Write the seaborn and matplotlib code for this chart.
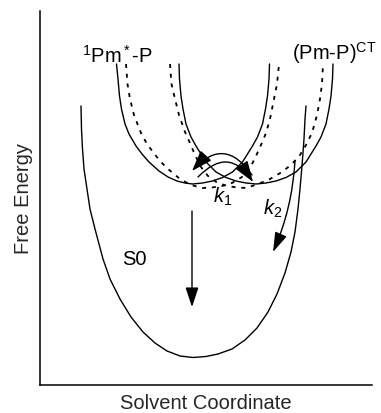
"""
Free energy surfaces along the solvent coordinate (S0, 1Pm*-P and CT state).
"""

import matplotlib
matplotlib.use("Agg")
import matplotlib.pyplot as plt
import numpy as np
import seaborn as sns

# ── Curve data (solvent coordinate, free energy) ─────────────────────────────
# locally-excited state 1Pm*-P, solid
LE_X = [76.5, 78, 79.5, 81.5, 85, 89, 96, 102, 109, 119, 128, 137, 145, 152.5,
        162.5, 172.5, 182.5, 192.5, 202.5, 207.5, 212.5, 217.5, 222.5, 225.5, 227.5, 229, 229.5]
LE_Y = [321, 306, 289, 276, 261, 251, 239, 231, 223, 214, 208, 204, 202, 201,
        202, 204, 207.5, 213, 223, 231, 239, 248, 261, 276, 289, 306, 321]

# charge-transfer state (Pm-P)CT, solid
CT_X = [139, 139.5, 141, 143, 146, 151, 156, 161, 166, 176, 186, 196, 206, 216,
        226, 236, 246, 256, 266, 271, 276, 281, 286, 289, 291, 292.5, 293]
CT_Y = [321, 306, 289, 276, 261, 248, 239, 231, 223, 213, 207.5, 204, 202, 201,
        202, 204, 207.5, 213, 223, 231, 239, 248, 261, 276, 289, 306, 321]

# shifted surfaces, dashed
LE_DASH_X = [86, 87.5, 90, 94, 101, 107, 113, 120, 128, 140, 151, 162.5,
             172, 182, 192, 202, 210, 216, 221, 226, 230, 234, 237, 239]
LE_DASH_Y = [321, 301, 286, 270, 252, 241, 233, 224, 216, 206, 200, 197,
             197.5, 199, 202, 208, 217, 229, 240, 252, 266, 286, 301, 321]

CT_DASH_X = [130, 131.5, 135, 139, 145, 150, 155, 161, 168, 177, 187, 197, 206.5,
             218, 230, 242, 252, 260, 266, 272, 277, 280, 282, 283]
CT_DASH_Y = [321, 301, 286, 270, 253, 242, 230, 218, 209, 202.5, 199, 197.5, 197,
             201, 206, 213, 221, 230, 240, 252, 270, 286, 301, 321]

# ground state S0
S0_X = [41, 41.5, 42.5, 44, 47, 50, 55, 63, 70, 80, 91, 103, 115, 127, 140, 153,
        166, 178, 192, 205, 217, 228, 237, 245, 251, 255, 258, 260, 262, 264, 265, 266]
S0_Y = [279, 256, 236, 216, 196, 176, 156, 126, 106, 86, 68, 53, 42, 34, 29, 27.5,
        28.5, 31, 36, 45, 57, 73, 91, 112, 133, 153, 176, 196, 219, 246, 266, 279]

# arrows: (start, tip)
RELAX_ARROW = [(152, 174), (152, 78)]
K2_ARROW = [(255, 224), (233, 133)]
K1_BACK_ARROW = [(212, 210), (152, 214)]
K1_FWD_ARROW = [(158, 208), (213, 203)]

# labels
LABELS = {
    "$^1$Pm$^*$-P": (42, 323),
    "(Pm-P)$^{\\mathrm{CT}}$": (252, 326),
    "S0": (82, 121),
    "$k_1$": (173, 183),
    "$k_2$": (223, 171),
}

# ── Styling ─────────────────────────────────────────────────────────────────
sns.set_theme(style="white")
plt.rcParams.update({
    "font.family": ["Liberation Sans", "DejaVu Sans"],
    "mathtext.fontset": "custom",
    "mathtext.rm": "Liberation Sans",
    "mathtext.it": "Liberation Sans:italic",
    "mathtext.bf": "Liberation Sans:bold",
    "axes.edgecolor": "black",
})

fig = plt.figure(figsize=(3.81, 4.14), dpi=100)
ax = fig.add_axes([40 / 381, 28 / 414, 332 / 381, 374 / 414])

line_kw = dict(color="black", lw=1.0, sort=False, estimator=None, ax=ax, legend=False)
sns.lineplot(x=LE_X, y=LE_Y, **line_kw)
sns.lineplot(x=CT_X, y=CT_Y, **line_kw)
sns.lineplot(x=S0_X, y=S0_Y, **line_kw)

dash_kw = dict(line_kw, lw=1.3, linestyle=(0, (2.2, 3.2)))
sns.lineplot(x=LE_DASH_X, y=LE_DASH_Y, **dash_kw)
sns.lineplot(x=CT_DASH_X, y=CT_DASH_Y, **dash_kw)


def arrow(points, rad=0.0, hl=1.1, hw=0.35):
    (x0, y0), (x1, y1) = points
    ax.annotate(
        "", xy=(x1, y1), xytext=(x0, y0),
        arrowprops=dict(
            arrowstyle=f"-|>,head_length={hl},head_width={hw}",
            color="black", lw=1.0, shrinkA=0, shrinkB=0,
            mutation_scale=10,
            connectionstyle=f"arc3,rad={rad}",
        ),
    )


arrow(RELAX_ARROW, hl=1.2, hw=0.4)
arrow(K2_ARROW, rad=-0.09, hl=1.2, hw=0.38)
arrow(K1_BACK_ARROW, rad=0.63, hl=1.3, hw=0.45)
arrow(K1_FWD_ARROW, rad=-0.62, hl=1.3, hw=0.45)

for text, (x, y) in LABELS.items():
    ax.text(x, y, text, fontsize=14.5, ha="left", va="baseline", color="black")

ax.set_xlim(0, 332)
ax.set_ylim(0, 374)
ax.set_xticks([])
ax.set_yticks([])
ax.set_xlabel("Solvent Coordinate", fontsize=14.5, labelpad=6)
ax.set_ylabel("Free Energy", fontsize=14.5, labelpad=5)
sns.despine(ax=ax)
for side in ("left", "bottom"):
    ax.spines[side].set_linewidth(1.1)

fig.savefig("out.png", dpi=100)
plt.close(fig)
